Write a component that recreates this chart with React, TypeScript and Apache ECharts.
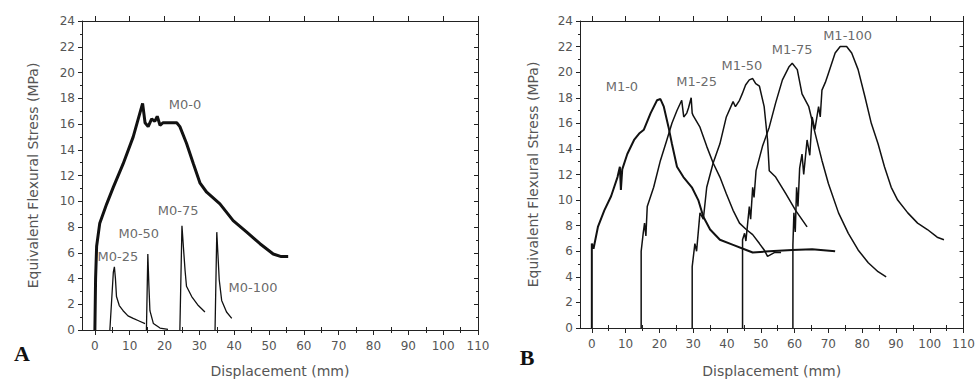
import React, { useEffect, useRef } from "react";
import * as echarts from "echarts";

// ---- axis ticks ----
const xMajorTicks = [0, 10, 20, 30, 40, 50, 60, 70, 80, 90, 100, 110];
const xMinorTicks = [5, 15, 25, 35, 45, 55, 65, 75, 85, 95, 105];
const yMin = 0;
const yMax = 24;
const yInterval = 2;

// ---- Panel A: M0 series [displacement mm, stress MPa] ----
const M0_0 = [
  [0, 0], [0.2, 4], [0.5, 6.5], [1.4, 8.3], [3.4, 9.8], [5.3, 11.1], [8.1, 12.9], [11, 15],
  [13.7, 17.6], [14.4, 16.1], [15.3, 15.8], [16.3, 16.4], [17.2, 16.2], [17.9, 16.6],
  [18.7, 15.9], [19.6, 16.1], [22, 16.1], [23.5, 16.1], [24.4, 15.8], [26.3, 14.5],
  [28.3, 12.9], [30.2, 11.4], [32.1, 10.7], [35.9, 9.8], [39.7, 8.5], [43.6, 7.6],
  [47.4, 6.7], [51.2, 5.9], [53.5, 5.7], [55.5, 5.7],
];
const M0_25 = [
  [4.3, 0], [5.3, 4.5], [5.6, 4.9], [5.9, 4.0], [6.2, 2.6], [7, 1.9], [8.1, 1.5], [9.5, 1.1],
  [11, 0.9], [12.7, 0.7], [14.4, 0.5],
];
const M0_50 = [[14.8, 0], [15.2, 5.9], [15.5, 3.5], [15.8, 1.5], [16.8, 0.5], [18.7, 0.15], [21, 0.05]];
const M0_75 = [[24.4, 0], [25, 8.1], [25.4, 6.5], [25.9, 4.6], [26.3, 3.4], [27.8, 2.6], [29.7, 1.9], [31.6, 1.4]];
const M0_100 = [[34.5, 0], [35, 7.6], [35.4, 5.5], [35.7, 3.9], [36.4, 2.3], [37.8, 1.4], [39.3, 0.9]];

// ---- Panel B: M1 series ----
const M1_0 = [
  [0, 0], [0, 6.6], [0.5, 6.2], [1.8, 7.9], [3.7, 9.2], [5.7, 10.3], [7.6, 11.8], [8.3, 12.6],
  [8.6, 10.8], [9, 12.4], [10.5, 13.6], [12.5, 14.7], [14, 15.2], [15.4, 15.5], [17.4, 16.8],
  [19.3, 17.8], [20.3, 17.9], [21.3, 17.3], [22.7, 15.7], [23.7, 14.4], [25.2, 12.6], [27.1, 11.8],
  [29.6, 11], [31.5, 10], [33, 8.7], [35, 7.7], [37.9, 6.9], [41.8, 6.5], [45.7, 6.1], [47.6, 5.9],
  [52.5, 6.0], [59.3, 6.1], [65.2, 6.15], [72, 6.0],
];
const M1_25 = [
  [14.6, 0], [14.6, 6], [15.2, 7.4], [15.6, 8.2], [16, 7.2], [16.4, 9.5], [18.3, 11], [20.3, 13.1],
  [22.2, 14.7], [23.7, 16], [25.2, 17], [26.6, 17.8], [27.2, 16.5], [28.1, 16.8], [28.6, 17.2],
  [29.4, 18], [29.7, 16.8], [30, 16.6], [32, 15.7], [34, 14.2], [35.9, 12.9], [37.9, 11.8],
  [39.8, 10.5], [41.8, 9.2], [43.7, 8.2], [45.7, 7.7], [47.6, 7.3], [49.6, 6.6], [51, 6.1],
  [52, 5.6], [54, 5.9], [56, 5.9],
];
const M1_50 = [
  [29.7, 0], [29.7, 4.8], [30.5, 6.6], [31, 6], [32, 9], [33, 8.5], [34, 11], [35.9, 12.9],
  [37.9, 14.4], [39.8, 16.5], [41.8, 17.7], [42.5, 17.3], [43.7, 17.8], [44.5, 18.3], [45.5, 19],
  [46.6, 19.4], [47.6, 19.5], [48.5, 19.1], [49.6, 18.9], [51, 17.3], [52, 14.7], [52.5, 12.3],
  [54.4, 11.8], [57.4, 10.5], [60.3, 9.2], [63.7, 7.9],
];
const M1_75 = [
  [44.6, 0], [44.6, 6.9], [45.2, 7.4], [45.6, 6.8], [46.6, 9.5], [47, 8.5], [47.6, 11], [48, 10.2],
  [48.6, 12.3], [50.5, 14.2], [52.5, 15.7], [54.4, 17.6], [56.4, 19.4], [58.3, 20.4], [59.3, 20.7],
  [60.8, 20.2], [62.2, 18.3], [64.2, 17.3], [66.1, 15.2], [68.1, 13.1], [70, 11.3], [73, 9],
  [75.9, 7.4], [78.8, 6.1], [81.8, 5.1], [84.7, 4.4], [87.1, 4.0],
];
const M1_100 = [
  [59.5, 0], [59.5, 6.5], [59.8, 9], [60.2, 7.5], [60.6, 11], [61, 9.5], [61.5, 12.5], [62.2, 13.6],
  [62.7, 12], [63.7, 14.7], [64.5, 13.5], [65.2, 16.5], [66, 15.5], [67.1, 17.3], [67.6, 16.5],
  [68.1, 18.6], [69.1, 19.2], [70, 19.9], [72, 21.5], [73.5, 22], [75.4, 22], [76.9, 21.5],
  [78.8, 20.2], [80.8, 18.1], [82.7, 16], [84.7, 14.4], [86.6, 12.6], [88.6, 11], [90.5, 10],
  [93.5, 9], [96.4, 8.2], [99.3, 7.7], [102.2, 7.1], [104.2, 6.9],
];

// ---- curve labels [x, y, text] ----
const labelsA = [
  [25.9, 17.5, "M0-0"], [6.6, 5.7, "M0-25"], [12.6, 7.5, "M0-50"], [23.9, 9.3, "M0-75"], [45.4, 3.3, "M0-100"],
];
const labelsB = [
  [8.9, 18.9, "M1-0"], [31, 19.3, "M1-25"], [44.4, 20.5, "M1-50"], [59.3, 21.8, "M1-75"], [75.7, 22.9, "M1-100"],
];

const panelLetters = ["A", "B"];
const xName = "Displacement (mm)";
const yName = "Equivalent Flexural Stress (MPa)";

const FONT = "DejaVu Sans";
const TXT = "#555";
const AX = "#222";

export default function App() {
  const ref = useRef<HTMLDivElement>(null);
  useEffect(() => {
    document.body.style.margin = "0";
    const chart = echarts.init(ref.current!, null, { renderer: "svg" });
    const grids = [
      { left: 82, top: 21, width: 396, height: 309, xmin: -3.7, yGap: 42, xGap: 34 },
      { left: 580, top: 21, width: 388, height: 307, xmin: -3.5, yGap: 40, xGap: 36 },
    ];
    const xAxis: any[] = [];
    const yAxis: any[] = [];
    grids.forEach((g, gi) => {
      const base = { gridIndex: gi, type: "value", min: g.xmin, max: 110, splitLine: { show: false } };
      xAxis.push({
        ...base, position: "bottom",
        name: xName, nameLocation: "middle", nameGap: g.xGap,
        nameTextStyle: { fontFamily: FONT, fontSize: 14, color: TXT },
        axisLine: { show: true, onZero: false, lineStyle: { color: AX, width: 1 } },
        axisTick: { show: true, customValues: xMajorTicks, length: 5, lineStyle: { color: AX } },
        axisLabel: { show: true, customValues: xMajorTicks, margin: 10, fontFamily: FONT, fontSize: 12, color: TXT },
      });
      xAxis.push({
        ...base, position: "bottom",
        axisLine: { show: false },
        axisTick: { show: true, customValues: xMinorTicks, length: 3, lineStyle: { color: AX } },
        axisLabel: { show: false },
      });
      xAxis.push({
        ...base, position: "top",
        axisLine: { show: true, onZero: false, lineStyle: { color: AX, width: 1 } },
        axisTick: { show: true, customValues: xMajorTicks, length: 5, lineStyle: { color: AX } },
        axisLabel: { show: false },
      });
      xAxis.push({
        ...base, position: "top",
        axisLine: { show: false },
        axisTick: { show: true, customValues: xMinorTicks, length: 3, lineStyle: { color: AX } },
        axisLabel: { show: false },
      });
      const ybase = { gridIndex: gi, type: "value", min: yMin, max: yMax, interval: yInterval, splitLine: { show: false } };
      yAxis.push({
        ...ybase, position: "left",
        name: yName, nameLocation: "middle", nameGap: g.yGap, nameRotate: 90,
        nameTextStyle: { fontFamily: FONT, fontSize: 14, color: TXT },
        axisLine: { show: true, onZero: false, lineStyle: { color: AX, width: 1 } },
        axisTick: { show: true, length: 4, lineStyle: { color: AX } },
        minorTick: { show: true, splitNumber: 2, length: 2, lineStyle: { color: AX } },
        axisLabel: { show: true, margin: 7, fontFamily: FONT, fontSize: 12, color: TXT },
      });
      yAxis.push({
        ...ybase, position: "right",
        axisLine: { show: true, onZero: false, lineStyle: { color: AX, width: 1 } },
        axisTick: { show: true, inside: true, length: 4, lineStyle: { color: AX } },
        minorTick: { show: true, splitNumber: 2, length: 2, lineStyle: { color: AX } },
        axisLabel: { show: false },
      });
    });

    const line = (data: number[][], gi: number, width: number) => ({
      type: "line",
      xAxisIndex: gi * 4,
      yAxisIndex: gi * 2,
      data,
      showSymbol: false,
      symbol: "none",
      lineStyle: { color: "#111", width },
      silent: true,
    });
    const labels = (data: any[], gi: number) => ({
      type: "scatter",
      xAxisIndex: gi * 4,
      yAxisIndex: gi * 2,
      data,
      symbolSize: 0,
      silent: true,
      label: {
        show: true, position: "inside", formatter: (p: any) => p.data[2],
        fontFamily: FONT, fontSize: 13, color: "#444",
      },
    });

    chart.setOption({
      animation: false,
      backgroundColor: "#fff",
      grid: grids.map((g) => ({ left: g.left, top: g.top, width: g.width, height: g.height })),
      xAxis,
      yAxis,
      series: [
        line(M0_0, 0, 3),
        line(M0_25, 0, 1.3),
        line(M0_50, 0, 1.3),
        line(M0_75, 0, 1.3),
        line(M0_100, 0, 1.3),
        labels(labelsA, 0),
        line(M1_0, 1, 2),
        line(M1_25, 1, 1.5),
        line(M1_50, 1, 1.5),
        line(M1_75, 1, 1.5),
        line(M1_100, 1, 1.5),
        labels(labelsB, 1),
      ],
      graphic: [
        { type: "text", x: 22, y: 353, style: { text: panelLetters[0], font: "bold 22px 'Liberation Serif'", fill: "#111", align: "center", verticalAlign: "middle" } },
        { type: "text", x: 527, y: 357, style: { text: panelLetters[1], font: "bold 22px 'Liberation Serif'", fill: "#111", align: "center", verticalAlign: "middle" } },
      ],
    });
    return () => chart.dispose();
  }, []);
  return <div ref={ref} style={{ width: 978, height: 383 }} />;
}
